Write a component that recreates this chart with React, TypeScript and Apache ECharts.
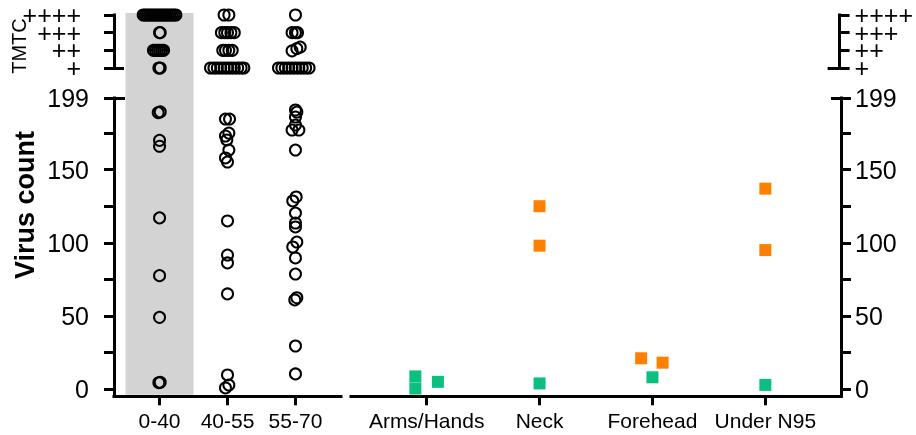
import React, { useEffect, useRef } from 'react';
import * as echarts from 'echarts';

const ageGroups = ['0-40', '40-55', '55-70'];
const sites = ['Arms/Hands', 'Neck', 'Forehead', 'Under N95'];
const tmtcLabels = ['+', '++', '+++', '++++'];
const tmtcLevels = [1, 2, 3, 4];
const countTicks = [0, 25, 50, 75, 100, 125, 150, 175, 199];
const countLabels = [0, 50, 100, 150, 199];

// TMTC section: [horizontal jitter, level]
const tmtc0to40 = [
  [-0.24, 4], [-0.21, 4], [-0.18, 4], [-0.15, 4], [-0.12, 4], [-0.09, 4], [-0.06, 4], [-0.03, 4], [0, 4],
  [0.03, 4], [0.06, 4], [0.09, 4], [0.12, 4], [0.15, 4], [0.18, 4], [0.21, 4], [0.24, 4],
  [0, 3], [0.01, 3],
  [-0.09, 2], [-0.06, 2], [-0.03, 2], [0, 2], [0.03, 2], [0.06, 2],
  [-0.01, 1], [0.01, 1],
];
const tmtc40to55 = [
  [-0.05, 4], [0.02, 4],
  [-0.09, 3], [-0.04, 3], [0, 3], [0.05, 3], [0.1, 3],
  [-0.07, 2], [-0.03, 2], [0.02, 2], [0.07, 2],
  [-0.25, 1], [-0.2, 1], [-0.15, 1], [-0.1, 1], [-0.05, 1], [0, 1], [0.05, 1], [0.1, 1],
  [0.15, 1], [0.2, 1], [0.24, 1],
];
const tmtc55to70 = [
  [0, 4],
  [-0.05, 3], [0, 3], [0.03, 3],
  [-0.05, 1.97], [0.02, 2.1], [0.07, 2.18],
  [-0.25, 1], [-0.2, 1], [-0.15, 1], [-0.1, 1], [-0.05, 1], [0, 1], [0.05, 1], [0.1, 1],
  [0.15, 1], [0.2, 1],
];

// Counted section: [horizontal jitter, virus count]
const count0to40 = [
  [-0.02, 189], [0.01, 189.5], [0, 170], [0, 166], [0, 117], [0, 77.5], [0, 49], [-0.01, 4.3], [0.01, 4.6],
];
const count40to55 = [
  [-0.03, 184.6], [0.03, 184.6], [0.02, 175], [-0.03, 173], [-0.01, 170.3], [0.02, 163.4],
  [-0.03, 158], [0, 155.2], [0, 114.9], [0, 91.6], [0, 86.2], [0, 65], [0, 9.6], [0.02, 2.7], [-0.03, 0.7],
];
const count55to70 = [
  [0, 190.8], [0.02, 189.4], [0, 186], [0, 180.5], [-0.05, 177.1], [0.05, 177.1], [0, 163.4],
  [0.01, 131.3], [-0.04, 128.6], [0, 120.3], [0, 113.5], [0, 110.8], [0.02, 100.5], [-0.04, 97.1],
  [0, 89.6], [0, 78.6], [0.02, 62.4], [-0.01, 60.9], [0, 29.4], [0, 10.3],
];

// Body sites: [site index + jitter, virus count]
const orangeSites = [
  [1, 125], [1, 98], [1.9, 21], [2.09, 18], [3, 137], [3, 95],
];
const greenSites = [
  [-0.1, 8.6], [-0.1, 0.3], [0.1, 4.9], [1, 3.8], [2, 8], [3, 2.8],
];

const FONT = '"Liberation Sans", Arial, sans-serif';
const BLACK = '#000';

function place(groups: number[][][]) {
  const out: number[][] = [];
  groups.forEach((g, gi) => g.forEach(([dx, v]) => out.push([gi + dx, v])));
  return out;
}

function valueY(grid: number, pos: 'left' | 'right', margin: number) {
  return {
    gridIndex: grid,
    type: 'value',
    position: pos,
    min: -5,
    max: 199,
    axisLine: { show: true, onZero: false, lineStyle: { color: BLACK, width: 3, cap: 'square' } },
    axisTick: { show: true, customValues: countTicks, length: 10, lineStyle: { color: BLACK, width: 3 } },
    axisLabel: {
      customValues: countLabels,
      showMinLabel: true,
      showMaxLabel: true,
      fontSize: 25,
      color: BLACK,
      margin,
      fontFamily: FONT,
    },
    splitLine: { show: false },
  };
}
function capY(grid: number, pos: 'left' | 'right', min: number, max: number, at: number, len: number) {
  return {
    gridIndex: grid,
    type: 'value',
    position: pos,
    min,
    max,
    axisLine: { show: false, onZero: false },
    axisTick: { show: true, inside: true, customValues: [at], length: len, lineStyle: { color: BLACK, width: 3 } },
    axisLabel: { show: false },
    splitLine: { show: false },
  };
}
// TMTC axis; labels split over two overlaid axes so neighbouring labels are never auto-hidden
function tmtcY(grid: number, pos: 'left' | 'right', margin: number, labelVals: number[], withLine: boolean) {
  return {
    gridIndex: grid,
    type: 'value',
    position: pos,
    min: 1,
    max: 4,
    interval: 1,
    axisLine: { show: withLine, onZero: false, lineStyle: { color: BLACK, width: 3, cap: 'square' } },
    axisTick: { show: withLine, customValues: tmtcLevels, length: 10, lineStyle: { color: BLACK, width: 3 } },
    axisLabel: {
      customValues: labelVals,
      showMinLabel: true,
      showMaxLabel: true,
      formatter: (v: number) => tmtcLabels[Math.round(v) - 1],
      fontSize: 25,
      lineHeight: 25,
      padding: [5, 0, 0, 0],
      color: BLACK,
      margin,
      fontFamily: FONT,
    },
    splitLine: { show: false },
  };
}
function catX(grid: number, names: string[], show: boolean) {
  const vals = names.map((_, i) => i);
  return {
    gridIndex: grid,
    type: 'value',
    show,
    min: -0.67,
    max: names.length - 1 + 0.67,
    axisLine: { show: true, onZero: false, lineStyle: { color: BLACK, width: 3, cap: 'square' } },
    axisTick: { show: true, customValues: vals, length: 9, lineStyle: { color: BLACK, width: 3 } },
    axisLabel: {
      customValues: vals,
      showMinLabel: true,
      showMaxLabel: true,
      formatter: (v: number) => names[Math.round(v)] ?? '',
      fontSize: 21,
      color: BLACK,
      margin: 14,
      fontFamily: FONT,
    },
    splitLine: { show: false },
  };
}

const circleStyle = { color: 'rgba(0,0,0,0)', borderColor: BLACK, borderWidth: 2, opacity: 1 };

export default function App() {
  const ref = useRef<HTMLDivElement>(null);
  useEffect(() => {
    const chart = echarts.init(ref.current!, null, { renderer: 'svg' });
    const option: any = {
      animation: false,
      textStyle: { fontFamily: FONT },
      grid: [
        { left: 114, top: 98, width: 227, height: 298.3 },
        { left: 114, top: 15, width: 227, height: 53 },
        { left: 351, top: 98, width: 490, height: 298.3 },
        { left: 351, top: 15, width: 490, height: 53 },
        { left: 114, top: 13, width: 227, height: 381.8 },
      ],
      xAxis: [
        catX(0, ageGroups, true),
        catX(1, ageGroups, false),
        catX(2, sites, true),
        catX(3, sites, false),
        catX(4, ageGroups, false),
      ],
      yAxis: [
        valueY(0, 'left', 25),
        capY(0, 'left', -5, 199, 199, 11),
        tmtcY(1, 'left', 33, [1, 3], true),
        capY(1, 'left', 1, 4, 1, 10),
        valueY(2, 'right', 14),
        capY(2, 'right', -5, 199, 199, 10),
        tmtcY(3, 'right', 15, [1, 3], true),
        capY(3, 'right', 1, 4, 1, 12),
        { gridIndex: 4, type: 'value', show: false, min: 0, max: 1 },
        tmtcY(1, 'left', 33, [2, 4], false),
        tmtcY(3, 'right', 15, [2, 4], false),
      ],
      graphic: [
        {
          type: 'text',
          x: 18.5,
          y: 46,
          rotation: Math.PI / 2,
          style: { text: 'TMTC', font: `20px ${FONT}`, fill: BLACK, textAlign: 'center', textVerticalAlign: 'middle' },
        },
        {
          type: 'text',
          x: 25,
          y: 205,
          rotation: Math.PI / 2,
          style: { text: 'Virus count', font: `bold 27px ${FONT}`, fill: BLACK, textAlign: 'center', textVerticalAlign: 'middle' },
        },
      ],
      series: [
        {
          type: 'scatter',
          xAxisIndex: 4,
          yAxisIndex: 8,
          data: [],
          markArea: {
            silent: true,
            itemStyle: { color: '#d3d3d3', opacity: 1 },
            data: [[{ xAxis: -0.5, yAxis: 0 }, { xAxis: 0.5, yAxis: 1 }]],
          },
        },
        {
          type: 'scatter',
          xAxisIndex: 0,
          yAxisIndex: 0,
          clip: false,
          symbol: 'circle',
          symbolSize: 11,
          itemStyle: circleStyle,
          data: place([count0to40, count40to55, count55to70]),
        },
        {
          type: 'scatter',
          xAxisIndex: 1,
          yAxisIndex: 2,
          clip: false,
          symbol: 'circle',
          symbolSize: 11,
          itemStyle: circleStyle,
          data: place([tmtc0to40, tmtc40to55, tmtc55to70]),
        },
        {
          type: 'scatter',
          xAxisIndex: 2,
          yAxisIndex: 4,
          clip: false,
          symbol: 'rect',
          symbolSize: 12,
          itemStyle: { color: '#ff8000', opacity: 1 },
          data: orangeSites,
        },
        {
          type: 'scatter',
          xAxisIndex: 2,
          yAxisIndex: 4,
          clip: false,
          symbol: 'rect',
          symbolSize: 12,
          itemStyle: { color: '#0cbf7f', opacity: 1 },
          data: greenSites,
        },
      ],
    };
    chart.setOption(option);
    return () => chart.dispose();
  }, []);
  return <div ref={ref} style={{ position: 'fixed', left: 0, top: 0, width: 916, height: 435 }} />;
}
